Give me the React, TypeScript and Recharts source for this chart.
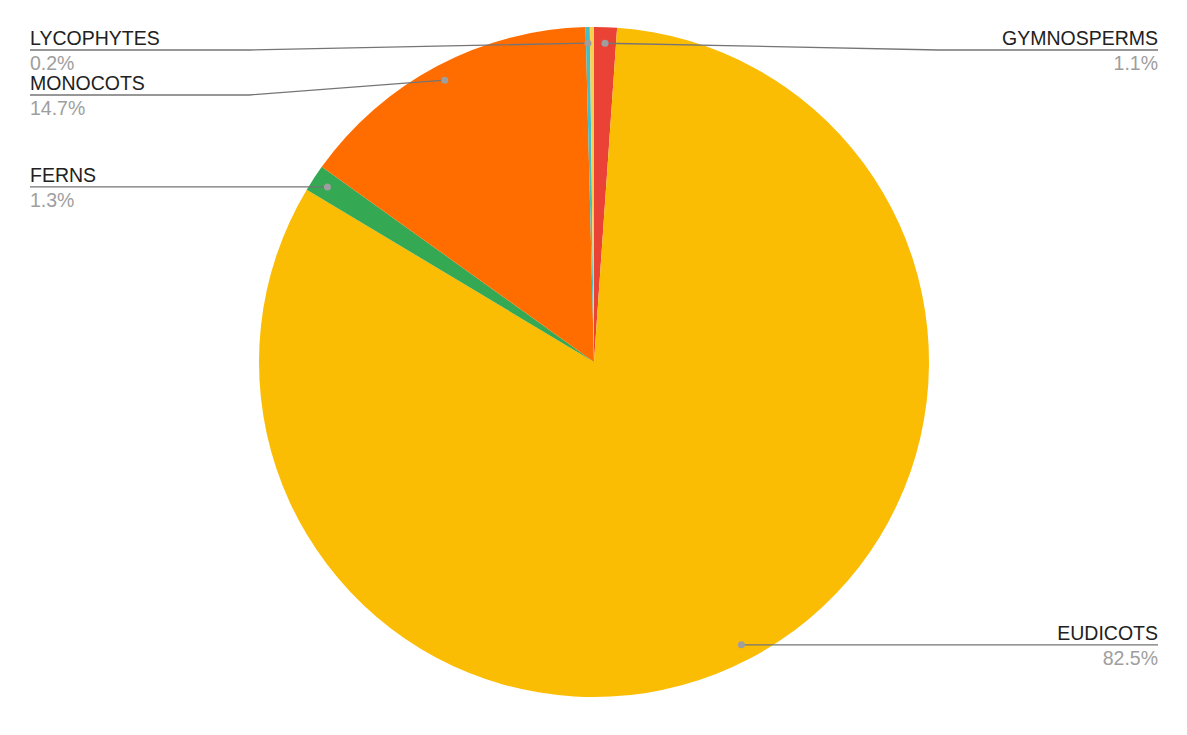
import { PieChart, Pie, Cell } from 'recharts';

const CATEGORIES = ['GYMNOSPERMS', 'EUDICOTS', 'FERNS', 'MONOCOTS', 'LYCOPHYTES', 'OTHER'];
const SHARES = [1.1, 82.5, 1.3, 14.7, 0.2, 0.2];
const COLORS = ['#ea4335', '#fbbc04', '#34a853', '#ff6d01', '#46bdc6', '#fcd04f'];
const SHOW_LABEL = [true, true, true, true, true, false];

const WIDTH = 1171;
const HEIGHT = 719;
const CX = 586;
const CY = 354;
const RADIUS = 335;
const DOT_RATIO = 0.952;
const LEFT_X = 22;
const RIGHT_X = 1150;
const LABEL_GAP = 45;
const MIN_LINE_Y = 42;
const RAD = Math.PI / 180;

const data = CATEGORIES.map((name, i) => ({ name, value: SHARES[i] }));
const total = SHARES.reduce((a, b) => a + b, 0);

// work out where each leader line sits, pushing labels apart on each side
const lineY: number[] = (() => {
  let acc = 0;
  const items = SHARES.map((v, i) => {
    const mid = 90 - ((acc + v / 2) / total) * 360;
    acc += v;
    const x = CX + RADIUS * DOT_RATIO * Math.cos(-mid * RAD);
    const y = CY + RADIUS * DOT_RATIO * Math.sin(-mid * RAD);
    return { i, x, y, left: x < CX };
  });
  const out: number[] = SHARES.map(() => 0);
  [true, false].forEach((side) => {
    const list = items
      .filter((d) => d.left === side && SHOW_LABEL[d.i])
      .sort((a, b) => a.y - b.y);
    let prev = -Infinity;
    list.forEach((d) => {
      const y = Math.max(d.y, prev + LABEL_GAP, MIN_LINE_Y);
      out[d.i] = y;
      prev = y;
    });
  });
  return out;
})();

const renderLabel = (props: any) => {
  const { cx, cy, midAngle, outerRadius, index } = props;
  if (!SHOW_LABEL[index]) return null;
  const r = outerRadius * DOT_RATIO;
  const dx = cx + r * Math.cos(-midAngle * RAD);
  const dy = cy + r * Math.sin(-midAngle * RAD);
  const left = dx < cx;
  const y = lineY[index];
  const textX = left ? LEFT_X : RIGHT_X;
  const elbowX = left ? cx - outerRadius - 10 : cx + outerRadius + 10;
  const pct = ((SHARES[index] / total) * 100).toFixed(1) + '%';
  return (
    <g key={`label-${index}`}>
      <polyline
        points={`${textX},${y} ${elbowX},${y} ${dx},${dy}`}
        fill="none"
        stroke="#757575"
        strokeWidth={1.3}
      />
      <circle cx={dx} cy={dy} r={3.5} fill="#9e9e9e" />
      <text
        x={textX}
        y={y - 5}
        textAnchor={left ? 'start' : 'end'}
        fill="#212121"
        fontSize={19.5}
        fontFamily="'Liberation Sans', Arial, sans-serif"
      >
        {CATEGORIES[index]}
      </text>
      <text
        x={textX}
        y={y + 20}
        textAnchor={left ? 'start' : 'end'}
        fill="#9e9e9e"
        fontSize={19.5}
        fontFamily="'Liberation Sans', Arial, sans-serif"
      >
        {pct}
      </text>
    </g>
  );
};

export default function App() {
  return (
    <div style={{ width: WIDTH, height: HEIGHT, background: '#fff' }}>
      <PieChart width={WIDTH} height={HEIGHT} margin={{ top: 0, right: 0, bottom: 0, left: 0 }}>
        <Pie
          data={data}
          dataKey="value"
          nameKey="name"
          cx={CX}
          cy={CY}
          outerRadius={RADIUS}
          startAngle={90}
          endAngle={-270}
          stroke="none"
          label={renderLabel}
          labelLine={false}
          isAnimationActive={false}
        >
          {data.map((_, index) => (
            <Cell key={`cell-${index}`} fill={COLORS[index]} />
          ))}
        </Pie>
      </PieChart>
    </div>
  );
}
